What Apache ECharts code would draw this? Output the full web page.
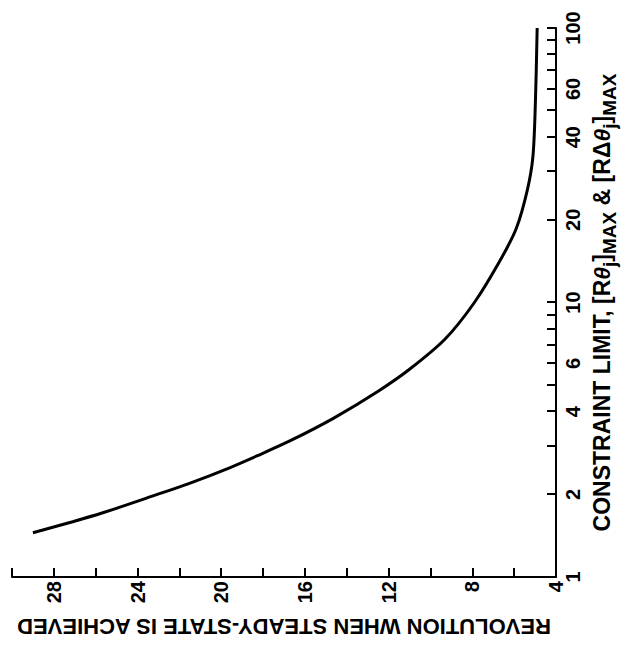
<!DOCTYPE html>
<html>
<head>
<meta charset="utf-8">
<script src="https://cdn.jsdelivr.net/npm/echarts@6/dist/echarts.min.js"></script>
<style>
  html, body { margin: 0; padding: 0; background: #fff; overflow: hidden; }
  /* the scan is turned 90° counter-clockwise, so the whole chart is drawn upright and rotated */
  #chart {
    position: absolute;
    left: -9px;
    top: 9px;
    width: 645px;
    height: 627px;
    transform: rotate(-90deg);
    transform-origin: 50% 50%;
  }
</style>
</head>
<body>
<div id="chart"></div>
<script>
// constraint limit (log axis) and revolution
const constraintLimit = [1.45, 1.59, 1.71, 1.97, 2.19, 2.5, 2.76, 3.15, 3.8, 4.75, 5.71, 7.36, 10, 14.1, 18.6, 25.9, 34.2, 55, 100];
const revolution = [29.0, 27.1, 25.7, 23.3, 21.55, 19.6, 18.3, 16.65, 14.6, 12.5, 11.0, 9.3, 7.9, 6.7, 5.9, 5.36, 5.1, 4.98, 4.9];

const limitTicks = [1, 2, 3, 4, 5, 6, 7, 8, 9, 10, 20, 30, 40, 50, 60, 70, 80, 90, 100];
const limitLabels = [1, 2, 4, 6, 10, 20, 40, 60, 100];
const revolutionLabels = [4, 8, 12, 16, 20, 24, 28];

const FONT = "'Liberation Sans', Arial, sans-serif";

const chart = echarts.init(document.getElementById("chart"), null, { renderer: "svg" });

const points = constraintLimit.map((x, i) => [x, revolution[i]]);

chart.setOption({
  animation: false,
  backgroundColor: "#fff",
  grid: { left: 63, right: 28, top: 12, bottom: 71 },
  xAxis: {
    type: "log",
    logBase: 10,
    min: 1,
    max: 100,
    name: "CONSTRAINT LIMIT, [R{it|θ}{sub|j}]{sub|MAX} & [RΔ{it|θ}{sub|j}]{sub|MAX}",
    nameLocation: "middle",
    nameGap: 28,
    nameTextStyle: {
      color: "#000",
      fontFamily: FONT,
      fontWeight: "bold",
      fontSize: 23,
      rich: {
        it: { fontFamily: FONT, fontWeight: "bold", fontStyle: "italic", fontSize: 23, color: "#000" },
        sub: { fontFamily: FONT, fontWeight: "bold", fontSize: 19, color: "#000", padding: [16, 0, 0, 0] }
      }
    },
    axisLine: { show: true, lineStyle: { color: "#000", width: 2 } },
    axisTick: {
      show: true,
      inside: true,
      length: 9,
      customValues: limitTicks,
      lineStyle: { color: "#000", width: 2 }
    },
    axisLabel: {
      customValues: limitLabels,
      color: "#000",
      fontFamily: FONT,
      fontWeight: "bold",
      fontSize: 20,
      margin: 7,
      formatter: (v) => String(Math.round(v))
    },
    splitLine: { show: false },
    minorTick: { show: false }
  },
  yAxis: {
    type: "value",
    min: 4,
    max: 30,
    interval: 2,
    name: "REVOLUTION WHEN STEADY-STATE IS ACHIEVED",
    nameLocation: "middle",
    nameGap: 38,
    nameTextStyle: {
      color: "#000",
      fontFamily: FONT,
      fontWeight: "bold",
      fontSize: 22
    },
    axisLine: { show: true, lineStyle: { color: "#000", width: 2 } },
    axisTick: {
      show: true,
      inside: true,
      length: 9,
      lineStyle: { color: "#000", width: 2 }
    },
    axisLabel: {
      customValues: revolutionLabels,
      color: "#000",
      fontFamily: FONT,
      fontWeight: "bold",
      fontSize: 20,
      margin: 4
    },
    splitLine: { show: false }
  },
  series: [
    {
      type: "line",
      data: points,
      smooth: 0.3,
      showSymbol: false,
      lineStyle: { color: "#000", width: 3 }
    }
  ]
});
</script>
</body>
</html>
